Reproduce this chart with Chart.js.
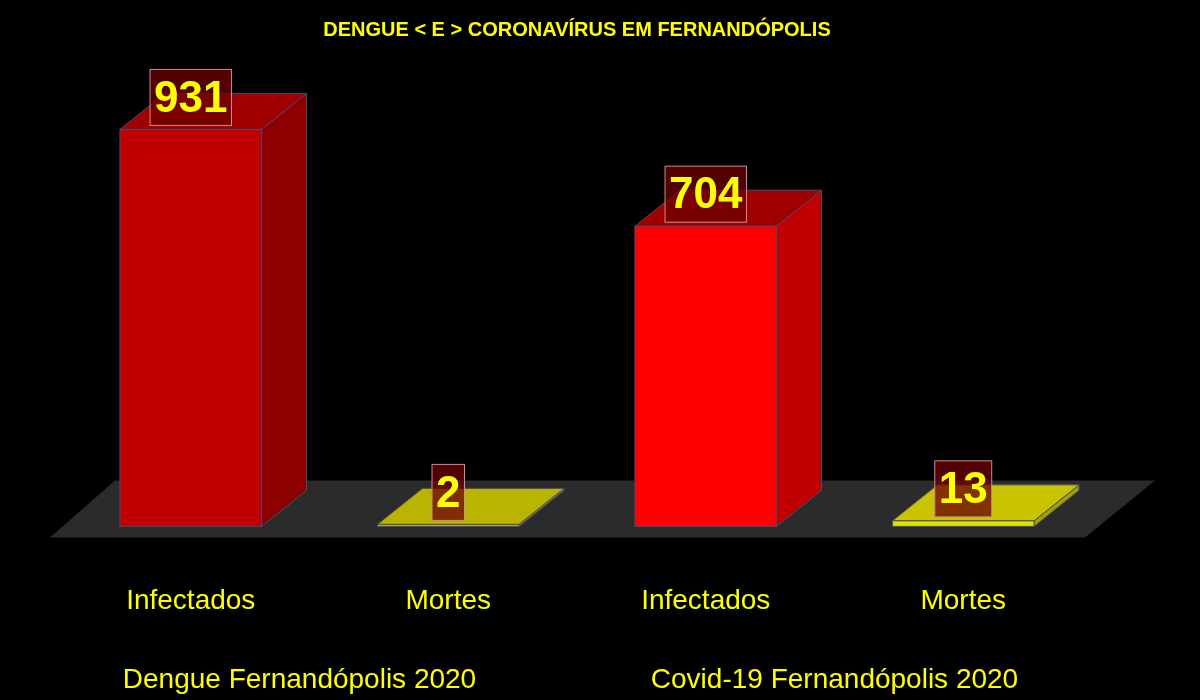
<!DOCTYPE html>
<html>
<head>
<meta charset="utf-8">
<script src="https://cdn.jsdelivr.net/npm/chart.js@4"></script>
<style>
  html, body { margin: 0; background: #000; }
  #wrap { width: 1200px; height: 700px; }
</style>
</head>
<body>
<div id="wrap"><canvas id="chart"></canvas></div>
<script>
// Data
const categories = ['Infectados', 'Mortes', 'Infectados', 'Mortes'];
const values = [931, 2, 704, 13];
const groups = ['Dengue Fernandópolis 2020', 'Covid-19 Fernandópolis 2020'];

// per-bar face colours: front, side, top
const faces = [
    ['#c00000', '#8c0000', '#a00000'],
    ['#c8c000', '#8a8500', '#b8b400'],
    ['#ff0000', '#c00000', '#a00000'],
    ['#e0e000', '#a0a000', '#c8c400']
];

const DX = 45, DY = -36;

const bars3d = {
    id: 'bars3d',
    beforeDatasetsDraw(chart) {
        const { ctx, chartArea: a, scales } = chart;
        const y0 = scales.y.getPixelForValue(0);
        ctx.save();
        ctx.fillStyle = '#2b2b2b';
        ctx.beginPath();
        ctx.moveTo(a.left - 12, y0 + 11);
        ctx.lineTo(a.right - 7, y0 + 11);
        ctx.lineTo(a.right + 63, y0 - 46);
        ctx.lineTo(a.left + 53, y0 - 46);
        ctx.closePath();
        ctx.fill();
        ctx.restore();
    },
    afterDatasetsDraw(chart) {
        const { ctx } = chart;
        const meta = chart.getDatasetMeta(0);
        ctx.save();
        ctx.lineWidth = 1;
        ctx.strokeStyle = '#4a4a70';
        meta.data.forEach((bar, i) => {
            const l = bar.x - bar.width / 2, r = bar.x + bar.width / 2;
            const t = Math.min(bar.y, bar.base - 2), b = bar.base;
            const [front, side, top] = faces[i];
            // side
            ctx.fillStyle = side;
            ctx.beginPath();
            ctx.moveTo(r, b); ctx.lineTo(r + DX, b + DY);
            ctx.lineTo(r + DX, t + DY); ctx.lineTo(r, t); ctx.closePath();
            ctx.fill(); ctx.stroke();
            // top
            ctx.fillStyle = top;
            ctx.beginPath();
            ctx.moveTo(l, t); ctx.lineTo(r, t);
            ctx.lineTo(r + DX, t + DY); ctx.lineTo(l + DX, t + DY); ctx.closePath();
            ctx.fill(); ctx.stroke();
            // front
            ctx.fillStyle = front;
            ctx.fillRect(l, t, r - l, b - t);
            ctx.strokeRect(l, t, r - l, b - t);

            // value label
            ctx.font = 'bold 44px "Liberation Sans", Arial, sans-serif';
            ctx.textAlign = 'center';
            ctx.textBaseline = 'middle';
            const txt = String(values[i]);
            const w = ctx.measureText(txt).width + 8;
            const cy = t - 32;
            ctx.fillStyle = 'rgba(110, 0, 0, 0.75)';
            ctx.fillRect(bar.x - w / 2, cy - 28, w, 56);
            ctx.strokeStyle = '#c89090';
            ctx.strokeRect(bar.x - w / 2, cy - 28, w, 56);
            ctx.strokeStyle = '#4a4a70';
            ctx.fillStyle = '#ffff00';
            ctx.fillText(txt, bar.x, cy + 2);
        });

        // group labels
        const xs = chart.scales.x;
        ctx.font = '28px "Liberation Sans Narrow", "Liberation Sans", sans-serif';
        ctx.fillStyle = '#ffff00';
        ctx.textAlign = 'center';
        ctx.textBaseline = 'middle';
        groups.forEach((g, k) => {
            const cx = (xs.getPixelForValue(k * 2) + xs.getPixelForValue(k * 2 + 1)) / 2 - 20 + k * 20;
            ctx.fillText(g, cx, 680);
        });
        ctx.restore();
    }
};

new Chart(document.getElementById('chart'), {
    type: 'bar',
    plugins: [bars3d],
    data: {
        labels: categories,
        datasets: [{
            data: values,
            backgroundColor: 'rgba(0,0,0,0)',
            barPercentage: 0.55,
            categoryPercentage: 1
        }]
    },
    options: {
        responsive: true,
        maintainAspectRatio: false,
        animation: false,
        layout: { padding: { left: 62, right: 108, bottom: 32 } },
        plugins: {
            legend: { display: false },
            tooltip: { enabled: false },
            title: {
                display: true,
                text: 'DENGUE < E > CORONAVÍRUS EM FERNANDÓPOLIS',
                color: '#ffff00',
                font: { size: 20, weight: 'bold', family: '"Liberation Sans", Arial, sans-serif' },
                padding: { top: 18, bottom: 58 }
            }
        },
        scales: {
            x: {
                grid: { display: false },
                border: { display: false },
                ticks: {
                    color: '#ffff00',
                    padding: 50,
                    font: { size: 28, family: '"Liberation Sans Narrow", "Liberation Sans", sans-serif' }
                }
            },
            y: {
                display: false,
                min: 0,
                max: 1000
            }
        }
    }
});
</script>
</body>
</html>
